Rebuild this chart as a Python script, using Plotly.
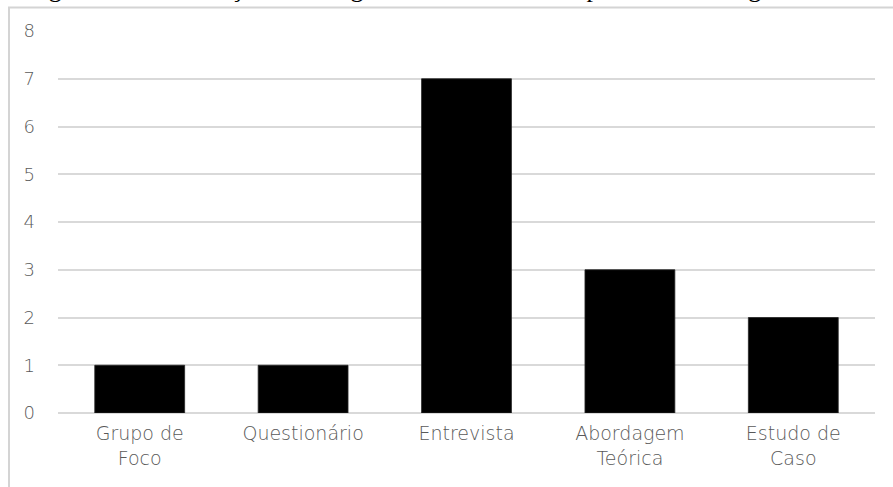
import plotly.graph_objects as go

# Methodology categories and number of articles in each
categorias = ["Grupo de<br>Foco", "Questionário", "Entrevista", "Abordagem<br>Teórica", "Estudo de<br>Caso"]
artigos = [1, 1, 7, 3, 2]
ticks_y = [0, 1, 2, 3, 4, 5, 6, 7, 8]

legenda_figura = "Figura 3: Classificação dos artigos de acordo com o tipo de metodologia adotada"

W, H = 893, 487
ML, MR, MT, MB = 58, 18, 31, 74
plot_w = W - ML - MR
plot_h = H - MT - MB


def px_x(px):
    return (px - ML) / plot_w


def px_y(py):
    return (H - MB - py) / plot_h


x_font = dict(family="DejaVu Sans", size=19, color="#595959", weight=300)
y_font = dict(family="DejaVu Sans", size=18, color="#595959", weight=300)
frame = dict(color="#d4d4d4", width=2)

fig = go.Figure(
    go.Bar(
        x=categorias,
        y=artigos,
        marker=dict(color="#000000", line=dict(color="#262626", width=0.8)),
        hoverinfo="x+y",
    )
)

fig.update_layout(
    width=W,
    height=H,
    margin=dict(l=ML, r=MR, t=MT, b=MB),
    paper_bgcolor="#ffffff",
    plot_bgcolor="#ffffff",
    bargap=0.45,
    showlegend=False,
    xaxis=dict(
        showgrid=False,
        showline=False,
        zeroline=False,
        ticks="",
        tickfont=x_font,
        ticklabelstandoff=7,
    ),
    yaxis=dict(
        range=[0, 8],
        tickvals=ticks_y,
        showgrid=True,
        gridcolor="#d9d9d9",
        gridwidth=1.5,
        zeroline=True,
        zerolinecolor="#d9d9d9",
        zerolinewidth=1.5,
        showline=False,
        ticks="",
        tickfont=y_font,
        ticklabelstandoff=22,
    ),
    shapes=[
        # chart frame: top edge and left edge
        dict(type="line", xref="paper", yref="paper",
             x0=px_x(8), x1=px_x(900), y0=px_y(7.5), y1=px_y(7.5),
             line=frame, layer="below"),
        dict(type="line", xref="paper", yref="paper",
             x0=px_x(9), x1=px_x(9), y0=px_y(7), y1=px_y(495),
             line=frame, layer="below"),
    ],
    annotations=[
        dict(
            text=legenda_figura,
            xref="paper",
            yref="paper",
            x=px_x(25),
            y=px_y(5),
            xanchor="left",
            yanchor="bottom",
            showarrow=False,
            font=dict(family="Liberation Serif", size=26, color="#000000"),
        )
    ],
)

fig.write_html("out.html")
